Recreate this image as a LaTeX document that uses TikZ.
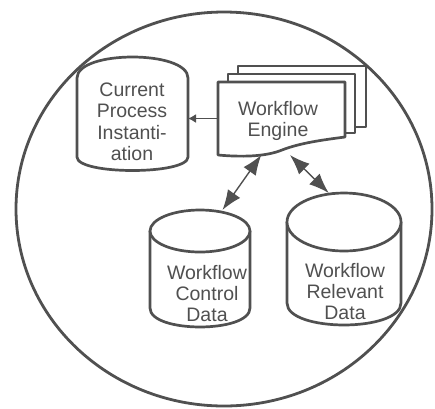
\documentclass[tikz,border=0pt]{standalone}
\usepackage{fontspec}
\setmainfont{Liberation Sans}
\usetikzlibrary{positioning,arrows.meta,calc}
\definecolor{ink}{HTML}{505050}

\begin{document}
\begin{tikzpicture}[x=1pt,y=-1pt,
      shapebox/.style={inner sep=0pt,outer sep=0pt},
      outline/.style={draw=ink,line width=2.7pt,fill=white,line join=round},
      txt/.style={inner sep=0pt,align=center,text=ink,font=\fontsize{19.5}{21}\selectfont},
      link/.style={draw=ink,line width=1.4pt,{Latex[length=20pt,width=15pt]}-{Latex[length=20pt,width=15pt]}},
      feed/.style={draw=ink,line width=1.4pt,-{Latex[length=8pt,width=9pt]}}]
    \useasboundingbox (0,0) rectangle (435,408);
    % system boundary
    \draw[ink,line width=2.8pt] (224,209) ellipse [x radius=208,y radius=197];

    % outline nodes
    \node[shapebox,minimum width=111pt,minimum height=113pt] (cpi) at (132.5,113.5) {};
    \node[shapebox,minimum width=127pt,minimum height=73pt] (engine) at (281.5,118.5) {};
    \node[shapebox,minimum width=100pt,minimum height=117pt] (wcd) at (200,268.5) {};
    \node[shapebox,minimum width=114pt,minimum height=132pt] (wrd) at (344,259) {};

    % current process instantiation
    \draw[outline] (77,78) .. controls (77,50) and (188,50) .. (188,78) -- (188,157)
      .. controls (188,175) and (77,175) .. (77,157) -- cycle;
    % workflow engine (stacked pages)
    \draw[outline] (238,66) rectangle (366,127);
    \draw[outline] (228,74) rectangle (355,133);
    \draw[outline] (218,82) -- (345,82) -- (345,137) .. controls (322,140) and (300,143) .. (282,150)
      .. controls (265,157) and (240,157) .. (218,155) -- cycle;
    % data stores
    \draw[outline] (150,231) -- (150,308) .. controls (150,333.3) and (250,333.3) .. (250,308) -- (250,231);
    \draw[outline] (200,231) ellipse [x radius=50,y radius=21];
    \draw[outline] (287,222) -- (287,303) .. controls (287,332.3) and (401,332.3) .. (401,303) -- (401,222);
    \draw[outline] (344,222) ellipse [x radius=57,y radius=29];

    \node[txt,font=\fontsize{19.5}{21.5}\selectfont] (cpi text) at (132,122) {Current\\Process\\Instanti-\\ation};
    \node[txt] (engine text) at (278,121) {Workflow\\Engine};
    \node[txt] (wcd text) at (207,294) {Workflow\\Control\\Data};
    \node[txt] (wrd text) at (345,292) {Workflow\\Relevant\\Data};

    \draw[feed] (engine.west) -- (engine.west -| cpi.east);
    \draw[link] (engine.-119) -- (wcd.69);
    \draw[link] (engine.-77.5) -- (wrd.103.6);
  \end{tikzpicture}
\end{document}
